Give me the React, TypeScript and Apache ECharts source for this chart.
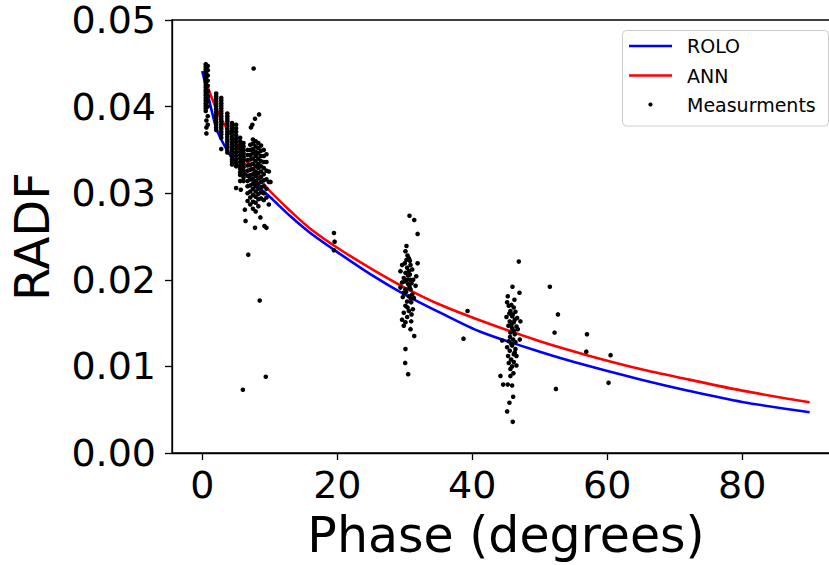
import React, { useEffect, useRef } from "react";
import * as echarts from "echarts";

// ---- data ----
const xTickValues = [0, 20, 40, 60, 80];

const roloCurve: [number, number][] = [
  [0, 0.0441], [0.6, 0.0421], [1.3, 0.0398], [2.1, 0.0374], [3.2, 0.0356], [4.7, 0.0337],
  [6.6, 0.0321], [8.1, 0.0309], [10.1, 0.0295], [13.1, 0.0273], [16, 0.0254], [20, 0.0232],
  [25, 0.0206], [30, 0.0183], [35, 0.0163], [41.2, 0.014], [50, 0.0117], [57, 0.0101],
  [64.9, 0.0085], [72, 0.0072], [80, 0.0059], [90, 0.0047],
];

const annCurve: [number, number][] = [
  [0, 0.0441], [1.2, 0.0414], [2.7, 0.0387], [4.2, 0.0368], [6.6, 0.0337], [9.6, 0.0306],
  [13.1, 0.0279], [16, 0.0259], [20, 0.0237], [25, 0.0213], [30, 0.0191], [35, 0.0172],
  [41.2, 0.0153], [50, 0.0129], [57, 0.0113], [64.9, 0.0097], [72, 0.0085], [80, 0.0072],
  [90, 0.00585],
];

// measurements near opposition (phase < 6.5)
const measLowPhase: [number, number][] = [
  [0.5, 0.0449], [0.5, 0.0446], [0.5, 0.0443], [0.5, 0.044], [0.5, 0.0437], [0.5, 0.0434],
  [0.5, 0.0431], [0.5, 0.0428], [0.5, 0.0425], [0.5, 0.0422], [0.5, 0.0419], [0.5, 0.0416],
  [0.5, 0.0413], [0.5, 0.041], [0.5, 0.0407], [0.5, 0.0404], [0.5, 0.0401], [0.5, 0.0398],
  [0.5, 0.0395], [0.8, 0.0447], [0.8, 0.0442], [0.8, 0.0436], [0.8, 0.043], [0.8, 0.0424],
  [0.8, 0.0418], [0.8, 0.0412], [0.8, 0.0406], [0.8, 0.04], [0.8, 0.0389], [0.8, 0.0379],
  [0.6, 0.0376], [0.6, 0.0369], [0.6, 0.0384],
  [2.05, 0.0415], [2.05, 0.0412], [2.05, 0.0409], [2.05, 0.0406], [2.05, 0.0403], [2.05, 0.04],
  [2.05, 0.0397], [2.05, 0.0394], [2.05, 0.0391], [2.05, 0.0388], [2.05, 0.0385], [2.05, 0.0382],
  [2.05, 0.0379], [2.05, 0.0376], [2.05, 0.0373],
  [2.8, 0.041], [2.8, 0.0407], [2.8, 0.0404], [2.8, 0.0401], [2.8, 0.0398], [2.8, 0.0395],
  [2.8, 0.0392], [2.8, 0.0389], [2.8, 0.0386], [2.8, 0.0383], [2.8, 0.038], [2.8, 0.0377],
  [2.8, 0.0374], [2.8, 0.0371], [2.8, 0.0368], [2.8, 0.0364], [2.8, 0.0351],
  [3.7, 0.0392], [3.7, 0.0389], [3.7, 0.0386], [3.7, 0.0383], [3.7, 0.038], [3.7, 0.0377],
  [3.7, 0.0374], [3.7, 0.0371], [3.7, 0.0368], [3.7, 0.0365], [3.7, 0.0362], [3.7, 0.0359],
  [3.7, 0.0356], [3.7, 0.0353], [3.7, 0.035], [3.7, 0.0347],
  [4.4, 0.0381], [4.4, 0.0378], [4.4, 0.0375], [4.4, 0.0372], [4.4, 0.0369], [4.4, 0.0366],
  [4.4, 0.0363], [4.4, 0.036], [4.4, 0.0357], [4.4, 0.0354], [4.4, 0.0351], [4.4, 0.0348],
  [4.4, 0.0345], [4.4, 0.0342], [4.4, 0.0339], [4.4, 0.0336], [4.4, 0.0333],
  [5.0, 0.0379], [5.0, 0.0375], [5.0, 0.0371], [5.0, 0.0367], [5.0, 0.0363], [5.0, 0.0359],
  [5.0, 0.0355], [5.0, 0.0351], [5.0, 0.0347], [5.0, 0.0343], [5.0, 0.0339], [5.0, 0.0335],
  [5.0, 0.0331], [5.0, 0.0306],
  [5.6, 0.0364], [5.6, 0.036], [5.6, 0.0356], [5.6, 0.0352], [5.6, 0.0348], [5.6, 0.0344],
  [5.6, 0.034], [5.6, 0.0336], [5.6, 0.0332], [5.6, 0.0328], [5.6, 0.0324], [5.6, 0.0321],
  [5.6, 0.0314], [5.7, 0.0304],
  [6.1, 0.0358], [6.1, 0.0354], [6.1, 0.035], [6.1, 0.0346], [6.1, 0.0342], [6.1, 0.0338],
  [6.1, 0.0334], [6.1, 0.033], [6.1, 0.0326], [6.1, 0.0322], [6.1, 0.0318], [6.1, 0.0314],
];

// measurements in the 6.5 - 10 degree cluster
const measCluster8: [number, number][] = [
  [6.7, 0.035], [6.7, 0.0344], [6.7, 0.0338], [6.7, 0.0332], [6.7, 0.0326], [6.7, 0.032],
  [6.7, 0.0314], [6.7, 0.0308], [6.7, 0.03], [6.7, 0.0291],
  [7.1, 0.0356], [7.1, 0.035], [7.1, 0.0344], [7.1, 0.0339], [7.1, 0.0333], [7.1, 0.0327],
  [7.1, 0.0321], [7.1, 0.0316], [7.1, 0.0309], [7.1, 0.0302], [7.1, 0.0295], [7.1, 0.0287],
  [7.5, 0.0362], [7.5, 0.0357], [7.5, 0.0351], [7.5, 0.0346], [7.5, 0.034], [7.5, 0.0334],
  [7.5, 0.0328], [7.5, 0.0322], [7.5, 0.0317], [7.5, 0.0311], [7.5, 0.0305], [7.5, 0.0298],
  [7.5, 0.029], [7.5, 0.0282],
  [7.9, 0.036], [7.9, 0.0354], [7.9, 0.0348], [7.9, 0.0343], [7.9, 0.0337], [7.9, 0.0331],
  [7.9, 0.0325], [7.9, 0.032], [7.9, 0.0314], [7.9, 0.0308], [7.9, 0.0302], [7.9, 0.0296],
  [7.9, 0.0289], [7.9, 0.0279],
  [8.3, 0.0358], [8.3, 0.0352], [8.3, 0.0346], [8.3, 0.034], [8.3, 0.0334], [8.3, 0.0329],
  [8.3, 0.0323], [8.3, 0.0317], [8.3, 0.0311], [8.3, 0.0305], [8.3, 0.0299], [8.3, 0.0293],
  [8.3, 0.0285],
  [8.7, 0.0355], [8.7, 0.0349], [8.7, 0.0343], [8.7, 0.0337], [8.7, 0.0331], [8.7, 0.0325],
  [8.7, 0.0319], [8.7, 0.0313], [8.7, 0.0307], [8.7, 0.0301], [8.7, 0.0294], [8.6, 0.0272],
  [9.1, 0.035], [9.1, 0.0343], [9.1, 0.0336], [9.1, 0.0329], [9.1, 0.0322], [9.1, 0.0315],
  [9.1, 0.0308], [9.1, 0.03], [9.1, 0.0292], [9.2, 0.0262],
  [9.5, 0.0345], [9.5, 0.0336], [9.5, 0.0326], [9.5, 0.0316], [9.5, 0.0305], [9.5, 0.0295],
  [9.5, 0.026], [9.85, 0.0325], [9.85, 0.0313], [9.85, 0.0287], [10.1, 0.0313],
  [7.6, 0.0444], [8.4, 0.0391], [7.8, 0.0386], [7.4, 0.0379], [7.2, 0.0376],
  [6.3, 0.0281], [6.4, 0.0268], [7.8, 0.026], [6.8, 0.0229], [8.5, 0.0176],
  [6.0, 0.0073], [9.4, 0.0088],
];

const meas20: [number, number][] = [
  [19.5, 0.0254], [19.6, 0.0244], [19.5, 0.0234],
];

const meas30: [number, number][] = [
  [30.25, 0.0239], [30.1, 0.0233], [30.6, 0.0225], [30.25, 0.0223], [30.75, 0.0222],
  [31.9, 0.0219], [29.6, 0.0217], [30.85, 0.0217], [30.35, 0.0214], [29.36, 0.021],
  [31.1, 0.0212], [30.1, 0.0208], [30.75, 0.0206], [31.7, 0.0204], [29.85, 0.0202],
  [30.35, 0.02], [31.25, 0.02], [29.6, 0.0197], [30.5, 0.0195], [31.6, 0.0193],
  [29.36, 0.0191], [30.1, 0.0189], [30.85, 0.0189], [29.85, 0.0185], [31.1, 0.0183],
  [30.6, 0.0181], [31.35, 0.0179], [30.35, 0.0175], [30.95, 0.0174], [30.1, 0.017],
  [30.6, 0.0164], [29.85, 0.0162], [31.0, 0.016], [30.35, 0.0157], [29.6, 0.0154],
  [30.95, 0.0152], [30.1, 0.0151], [29.85, 0.0147], [30.85, 0.0143],
  [30.5, 0.0205], [30.0, 0.0198], [30.7, 0.0192], [31.0, 0.0196], [30.2, 0.0186],
  [30.9, 0.0178], [29.7, 0.018], [30.4, 0.0168], [31.2, 0.0166], [30.0, 0.0219],
  [30.6, 0.021], [30.4, 0.0228], [30.8, 0.02],
  [30.7, 0.0274], [31.4, 0.0269], [31.9, 0.0253], [31.4, 0.0135], [30.1, 0.012],
  [30.06, 0.0104], [30.5, 0.0091],
];

const meas45: [number, number][] = [
  [45.96, 0.0192], [47.0, 0.0185], [45.26, 0.0181], [46.25, 0.0177], [45.17, 0.0174],
  [45.41, 0.017], [46.15, 0.0168], [45.66, 0.0164], [46.4, 0.0163], [45.07, 0.0157],
  [45.91, 0.0158], [46.65, 0.0156], [45.56, 0.0152], [47.14, 0.0152], [46.15, 0.0151],
  [45.36, 0.0147], [46.55, 0.0146], [45.91, 0.0144], [46.75, 0.0143], [45.66, 0.0139],
  [46.3, 0.0137], [44.43, 0.013], [47.04, 0.0131], [45.41, 0.0129], [46.06, 0.0131],
  [45.17, 0.0122], [45.91, 0.0124], [46.4, 0.012], [45.56, 0.0118], [46.15, 0.0114],
  [45.31, 0.0112], [46.55, 0.0112], [45.76, 0.0108], [46.15, 0.0105], [45.41, 0.0104],
  [46.55, 0.0101], [45.66, 0.0097], [44.18, 0.0089], [45.66, 0.0089], [44.58, 0.0079],
  [45.26, 0.0079], [45.91, 0.0078], [46.06, 0.0065], [45.51, 0.0058], [45.17, 0.0048],
  [46.0, 0.0036], [46.9, 0.0221],
  [46.0, 0.016], [45.8, 0.0148], [46.2, 0.0141], [45.6, 0.0134], [46.4, 0.0128],
  [45.8, 0.0126], [46.3, 0.0116], [45.9, 0.01], [46.1, 0.0092], [45.8, 0.0171],
  [46.3, 0.0154], [45.5, 0.0161],
];

const measOther: [number, number][] = [
  [38.7, 0.0132], [39.3, 0.0164], [51.5, 0.0192], [52.7, 0.016], [52.2, 0.0139],
  [52.4, 0.0074], [57.0, 0.0137], [56.9, 0.0117], [60.5, 0.0113], [60.2, 0.0081],
];

const legendLabels = ["ROLO", "ANN", "Measurments"];

const FONT = "DejaVu Sans";

export default function App() {
  const ref = useRef<HTMLDivElement>(null);

  useEffect(() => {
    if (!ref.current) return;
    const chart = echarts.init(ref.current, undefined, { renderer: "svg" });
    const measurements = [
      ...measLowPhase,
      ...measCluster8,
      ...meas20,
      ...meas30,
      ...meas45,
      ...measOther,
    ];

    const legX = 622.5;
    const legY = 30.5;
    const rowY = [46, 75.5, 104.5];

    chart.setOption({
      animation: false,
      backgroundColor: "#ffffff",
      grid: {
        left: 171,
        top: 20,
        right: 6,
        bottom: 111,
        show: true,
        borderColor: "#000000",
        borderWidth: 1.3,
        backgroundColor: "transparent",
      },
      xAxis: {
        type: "value",
        min: -4.5,
        max: 94.5,
        name: "Phase (degrees)",
        nameLocation: "middle",
        nameGap: 58,
        nameTextStyle: { fontFamily: FONT, fontSize: 49, color: "#000" },
        axisLine: { show: true, onZero: false, lineStyle: { color: "#000", width: 1.3 } },
        axisTick: {
          show: true,
          length: 7,
          customValues: xTickValues,
          lineStyle: { color: "#000", width: 1.3 },
        },
        axisLabel: {
          customValues: xTickValues,
          fontFamily: FONT,
          fontSize: 38,
          color: "#000",
          margin: 13,
        },
        splitLine: { show: false },
      },
      yAxis: {
        type: "value",
        min: 0,
        max: 0.05,
        interval: 0.01,
        name: "RADF",
        nameLocation: "middle",
        nameRotate: 90,
        nameGap: 116,
        nameTextStyle: { fontFamily: FONT, fontSize: 48, color: "#000" },
        axisLine: { show: true, onZero: false, lineStyle: { color: "#000", width: 1.3 } },
        axisTick: { show: true, length: 7, lineStyle: { color: "#000", width: 1.3 } },
        axisLabel: {
          fontFamily: FONT,
          fontSize: 38,
          lineHeight: 30,
          color: "#000",
          margin: 16,
          formatter: (v: number) => v.toFixed(2),
        },
        splitLine: { show: false },
      },
      series: [
        {
          name: legendLabels[2],
          type: "scatter",
          data: measurements,
          symbol: "circle",
          symbolSize: 4.6,
          itemStyle: { color: "#000000", opacity: 1 },
          z: 3,
        },
        {
          name: legendLabels[0],
          type: "line",
          data: roloCurve,
          smooth: 0.3,
          showSymbol: false,
          lineStyle: { color: "#0000ff", width: 2.6 },
          z: 2,
        },
        {
          name: legendLabels[1],
          type: "line",
          data: annCurve,
          smooth: 0.3,
          showSymbol: false,
          lineStyle: { color: "#ff0000", width: 2.6 },
          z: 1,
        },
      ],
      graphic: [
        {
          type: "rect",
          z: 100,
          shape: { x: legX, y: legY, width: 206, height: 95.5, r: 4 },
          style: { fill: "rgba(255,255,255,0.8)", stroke: "#cccccc", lineWidth: 1 },
        },
        {
          type: "line",
          z: 101,
          shape: { x1: 629, y1: rowY[0], x2: 672, y2: rowY[0] },
          style: { stroke: "#0000ff", lineWidth: 2.6 },
        },
        {
          type: "line",
          z: 101,
          shape: { x1: 629, y1: rowY[1], x2: 672, y2: rowY[1] },
          style: { stroke: "#ff0000", lineWidth: 2.6 },
        },
        {
          type: "circle",
          z: 101,
          shape: { cx: 650.5, cy: rowY[2], r: 2.1 },
          style: { fill: "#000000" },
        },
        ...legendLabels.map((t, i) => ({
          type: "text",
          z: 101,
          x: 687,
          y: rowY[i],
          style: {
            text: t,
            fontFamily: FONT,
            fontSize: 19,
            fill: "#000000",
            verticalAlign: "middle",
            align: "left",
          },
        })),
      ],
    });

    return () => chart.dispose();
  }, []);

  return (
    <div
      style={{
        position: "fixed",
        left: 0,
        top: 0,
        width: 829,
        height: 565,
        overflow: "hidden",
        background: "#fff",
      }}
    >
      <div ref={ref} style={{ width: 846, height: 565 }} />
    </div>
  );
}
